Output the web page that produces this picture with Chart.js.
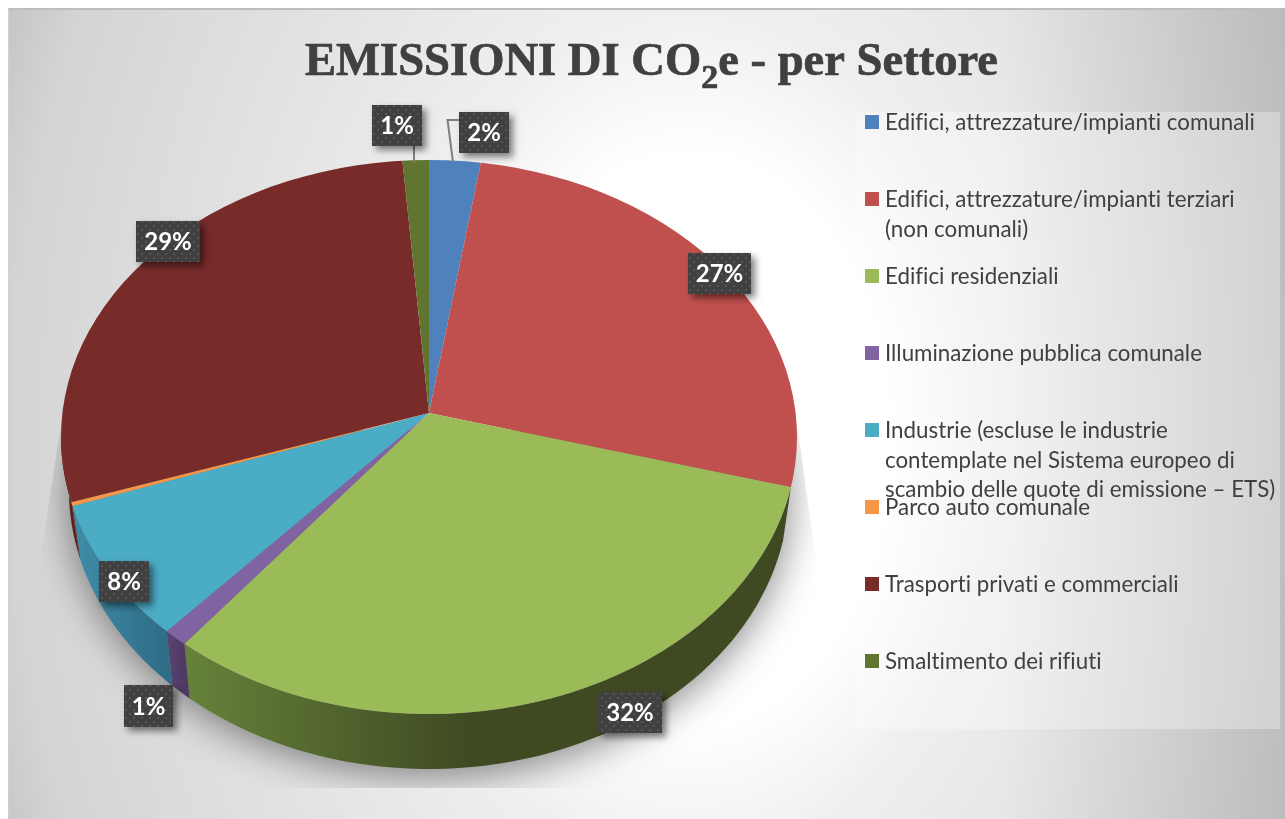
<!DOCTYPE html>
<html lang="it">
<head>
<meta charset="utf-8">
<title>Emissioni di CO2e per settore</title>
<script src="https://cdn.jsdelivr.net/npm/chart.js@4"></script>
<style>
    html, body { margin: 0; padding: 0; background: #fff; }
    canvas { display: block; }
</style>
</head>
<body>
<canvas id="grafico" width="1285" height="819"></canvas>
<script>
const categorie = [
    ['Edifici, attrezzature/impianti comunali'],
    ['Edifici, attrezzature/impianti terziari', '(non comunali)'],
    ['Edifici residenziali'],
    ['Illuminazione pubblica comunale'],
    ['Industrie (escluse le industrie', 'contemplate nel Sistema europeo di', 'scambio delle quote di emissione – ETS)'],
    ['Parco auto comunale'],
    ['Trasporti privati e commerciali'],
    ['Smaltimento dei rifiuti']
];
const valori = [2.25, 26.65, 32.49, 1.0, 7.71, 0.2, 28.55, 1.15];
const colori = ['#4f81bd', '#c0504d', '#9bbb59', '#8064a2', '#4bacc6', '#f79646', '#772c2a', '#5f7530'];
// colore della parete laterale: sinistra, destra (null = non visibile)
const pareteSx = [null, null, '#66823a', '#5a4472', '#3f8ea8', '#5c1f1e', '#5c1f1e', null];
const pareteDx = [null, null, '#3f4a22', '#4e3a64', '#2f6c86', '#5c1f1e', '#5c1f1e', null];

// riquadri delle etichette: x, y, larghezza, altezza (null = nessuna etichetta)
const riquadri = [
    [459, 112, 50, 41], [688, 253, 63, 41], [598, 692, 64, 41], [124, 685, 49, 42],
    [99, 561, 50, 41], null, [136, 221, 64, 41], [372, 105, 50, 41]
];

// geometria della torta in prospettiva: il vertice delle fette non coincide col centro dell'ellisse
const SCALA_SOPRA = 253 / 368;
const SCALA_SOTTO = 302 / 368;
const BORDO = { cy: 437, rx: 368, ry: 277 };
const PARETE = { cy: 490, rx: 360, ry: 279 };

function sfondo(ctx) {
    ctx.fillStyle = '#fff';
    ctx.fillRect(0, 0, 1285, 819);
    ctx.save();
    ctx.beginPath();
    ctx.rect(8, 8, 1277, 811);
    ctx.clip();
    ctx.save();
    ctx.translate(690, 440);
    ctx.scale(1, 1 / 0.7);
    const g = ctx.createRadialGradient(0, 0, 0, 0, 0, 760);
    g.addColorStop(0, '#ffffff');
    g.addColorStop(200 / 760, '#ffffff');
    g.addColorStop(300 / 760, '#efefef');
    g.addColorStop(420 / 760, '#e6e6e6');
    g.addColorStop(680 / 760, '#d4d4d4');
    g.addColorStop(1, '#c2c2c2');
    ctx.fillStyle = g;
    ctx.fillRect(-2000, -2000, 4000, 4000);
    ctx.restore();
    const d = ctx.createLinearGradient(1000, 0, 1285, 0);
    d.addColorStop(0, 'rgba(0,0,0,0)');
    d.addColorStop(1, 'rgba(0,0,0,0.12)');
    ctx.fillStyle = d;
    ctx.fillRect(1000, 8, 285, 811);
    ctx.restore();
    ctx.fillStyle = '#bdbdbd';
    ctx.fillRect(8, 8, 1277, 2);
    ctx.fillStyle = '#d0d0d0';
    ctx.fillRect(8, 8, 1, 811);
}

function ombra(ctx, cx) {
    ctx.save();
    ctx.beginPath();
    ctx.moveTo(60, 430);
    ctx.lineTo(38, 575);
    ctx.lineTo(38, 788);
    ctx.lineTo(818, 788);
    ctx.lineTo(818, 575);
    ctx.lineTo(798, 430);
    ctx.closePath();
    ctx.clip();
    ctx.shadowColor = 'rgba(0,0,0,0.45)';
    ctx.shadowBlur = 38;
    ctx.shadowOffsetX = 3000;
    ctx.fillStyle = '#000';
    ctx.beginPath();
    ctx.ellipse(cx - 3000, PARETE.cy + 6, PARETE.rx + 1, PARETE.ry + 2, 0, 0, Math.PI * 2);
    ctx.fill();
    ctx.restore();
}

// angolo sull'ellisse del punto dove il raggio della fetta esce dal bordo
function angoloSulBordo(angolo, cx, cy) {
    const dx = Math.cos(angolo);
    const dy = Math.sin(angolo) * (Math.sin(angolo) < 0 ? SCALA_SOPRA : SCALA_SOTTO);
    const q = cy - BORDO.cy;
    const a = (dx / BORDO.rx) ** 2 + (dy / BORDO.ry) ** 2;
    const b = 2 * q * dy / BORDO.ry ** 2;
    const c = (q / BORDO.ry) ** 2 - 1;
    const t = (-b + Math.sqrt(b * b - 4 * a * c)) / (2 * a);
    return Math.atan2((q + t * dy) / BORDO.ry, t * dx / BORDO.rx);
}

// parete laterale di una fetta, solo sul davanti della torta
function parete(ctx, arco, i) {
    if (!pareteSx[i]) return;
    const { x, y, startAngle, endAngle } = arco.getProps(['x', 'y', 'startAngle', 'endAngle']);
    const da = Math.max(angoloSulBordo(startAngle, x, y), 0);
    let a = angoloSulBordo(endAngle, x, y);
    if (a < 0) a = Math.PI;
    if (a <= da) return;
    const g = ctx.createLinearGradient(x + BORDO.rx * Math.cos(a), 0, Math.min(x + 40, x + BORDO.rx * Math.cos(da)), 0);
    g.addColorStop(0, pareteSx[i]);
    g.addColorStop(1, pareteDx[i]);
    ctx.fillStyle = g;
    ctx.beginPath();
    const passi = 60;
    for (let k = 0; k <= passi; k++) {
        const t = da + (a - da) * k / passi;
        ctx.lineTo(x + BORDO.rx * Math.cos(t), BORDO.cy + BORDO.ry * Math.sin(t));
    }
    for (let k = passi; k >= 0; k--) {
        const t = da + (a - da) * k / passi;
        ctx.lineTo(x + PARETE.rx * Math.cos(t), PARETE.cy + PARETE.ry * Math.sin(t));
    }
    ctx.closePath();
    ctx.fill();
}

function superficie(ctx, archi, cx, cy, scala, yClip, hClip) {
    ctx.save();
    ctx.beginPath();
    ctx.rect(0, yClip, 1285, hClip);
    ctx.clip();
    ctx.beginPath();
    ctx.ellipse(cx, BORDO.cy, BORDO.rx, BORDO.ry, 0, 0, Math.PI * 2);
    ctx.clip();
    // le fette sono ingrandite dal vertice e tagliate dall'ellisse del bordo
    ctx.translate(cx, cy);
    ctx.scale(1.1, scala * 1.1);
    ctx.translate(-cx, -cy);
    archi.forEach(arco => arco.draw(ctx));
    ctx.restore();
}

const torta3d = {
    id: 'torta3d',
    beforeDraw(chart) {
        sfondo(chart.ctx);
    },
    beforeDatasetDraw(chart) {
        const ctx = chart.ctx;
        const archi = chart.getDatasetMeta(0).data;
        const { x: cx, y: cy } = archi[0].getProps(['x', 'y']);
        ombra(ctx, cx);
        archi.forEach((arco, i) => parete(ctx, arco, i));
        superficie(ctx, archi, cx, cy, SCALA_SOPRA, 0, cy);
        superficie(ctx, archi, cx, cy, SCALA_SOTTO, cy, 819 - cy);
        return false;
    }
};

function motivoPunti(ctx) {
    const c = document.createElement('canvas');
    c.width = 8;
    c.height = 8;
    const p = c.getContext('2d');
    p.fillStyle = '#404040';
    p.fillRect(0, 0, 8, 8);
    p.fillStyle = '#555555';
    p.fillRect(1, 1, 2, 2);
    p.fillRect(5, 5, 2, 2);
    return ctx.createPattern(c, 'repeat');
}

const etichette = {
    id: 'etichette',
    afterDatasetsDraw(chart) {
        const ctx = chart.ctx;
        const totale = valori.reduce((s, v) => s + v, 0);
        const motivo = motivoPunti(ctx);
        // linee guida delle due fette piccole in alto
        ctx.save();
        ctx.strokeStyle = '#7f7f7f';
        ctx.lineWidth = 2;
        ctx.beginPath();
        ctx.moveTo(414, 146);
        ctx.lineTo(414, 162);
        ctx.moveTo(459, 120);
        ctx.lineTo(447.5, 120);
        ctx.lineTo(453, 162);
        ctx.stroke();
        ctx.restore();
        riquadri.forEach((r, i) => {
            if (!r) return;
            const [x, y, w, h] = r;
            ctx.save();
            ctx.shadowColor = 'rgba(0,0,0,0.5)';
            ctx.shadowBlur = 7;
            ctx.shadowOffsetX = 4;
            ctx.shadowOffsetY = 4;
            ctx.fillStyle = '#404040';
            ctx.fillRect(x, y, w, h);
            ctx.restore();
            ctx.fillStyle = motivo;
            ctx.fillRect(x, y, w, h);
            ctx.fillStyle = '#fff';
            ctx.font = 'bold 24px Lato';
            ctx.textAlign = 'center';
            ctx.textBaseline = 'middle';
            ctx.fillText(Math.round(valori[i] / totale * 100) + '%', x + w / 2, y + h / 2 + 1);
        });
    }
};

const titolo = {
    id: 'titolo',
    afterDraw(chart) {
        const ctx = chart.ctx;
        ctx.save();
        ctx.fillStyle = '#404040';
        ctx.strokeStyle = '#404040';
        ctx.lineWidth = 0.7;
        ctx.textBaseline = 'alphabetic';
        ctx.textAlign = 'left';
        const fontBase = 'bold 46.6px "Liberation Serif"';
        const pezzi = [['EMISSIONI DI CO', fontBase, 75], ['2', 'bold 34px "Liberation Serif"', 88], ['e - per Settore', fontBase, 75]];
        let x = 305;
        pezzi.forEach(([testo, font, y]) => {
            ctx.font = font;
            ctx.fillText(testo, x, y);
            ctx.strokeText(testo, x, y);
            x += ctx.measureText(testo).width;
        });
        ctx.restore();
    }
};

const legenda = {
    id: 'legendaLaterale',
    afterDraw(chart) {
        const ctx = chart.ctx;
        ctx.save();
        ctx.fillStyle = 'rgba(255,255,255,0.3)';
        ctx.fillRect(856, 112, 424, 617);
        ctx.font = '22.3px Lato';
        ctx.letterSpacing = '0.01px';
        ctx.textBaseline = 'middle';
        ctx.textAlign = 'left';
        chart.data.labels.forEach((righe, i) => {
            const y = 122 + i * 77;
            ctx.fillStyle = colori[i];
            ctx.fillRect(865, y - 7, 14, 14);
            ctx.fillStyle = '#404040';
            righe.forEach((riga, k) => ctx.fillText(riga, 885, y + 1 + k * 29.5));
        });
        ctx.restore();
    }
};

new Chart(document.getElementById('grafico'), {
    type: 'pie',
    data: {
        labels: categorie,
        datasets: [{
            data: valori,
            backgroundColor: colori,
            borderWidth: 0
        }]
    },
    options: {
        responsive: false,
        animation: false,
        events: [],
        layout: { padding: { left: 61, right: 488, top: 45, bottom: 38 } },
        plugins: {
            legend: { display: false },
            title: { display: false },
            tooltip: { enabled: false }
        }
    },
    plugins: [torta3d, etichette, legenda, titolo]
});
</script>
</body>
</html>
